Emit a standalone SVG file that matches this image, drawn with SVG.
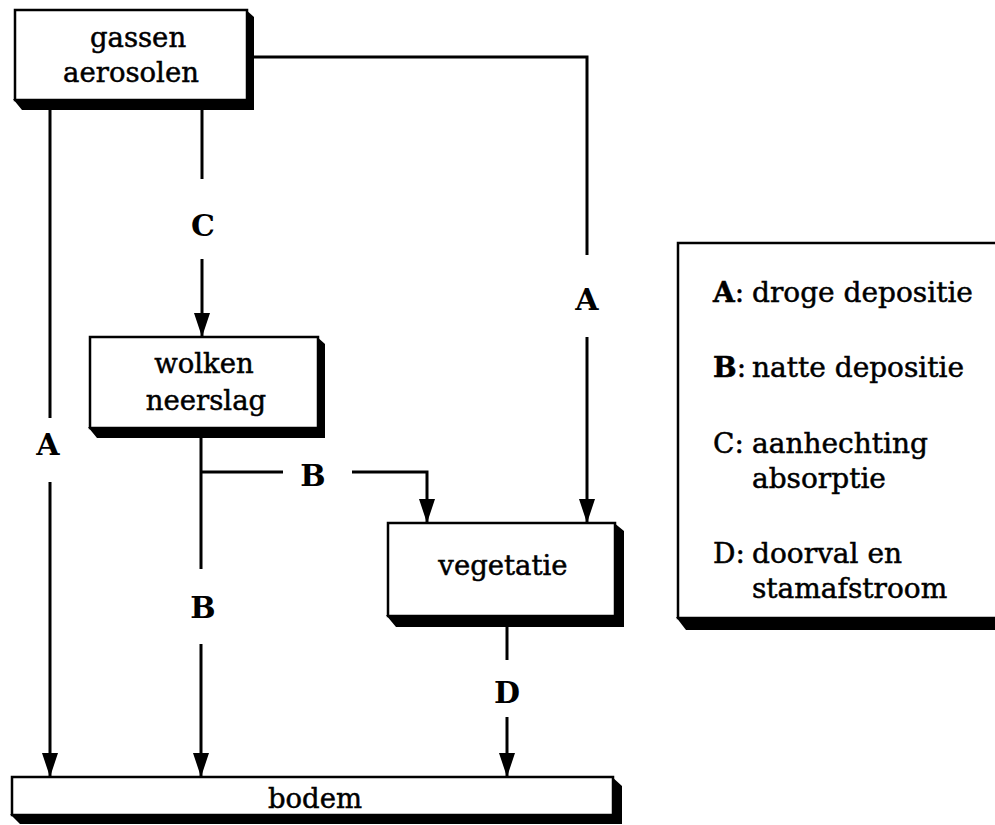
<svg xmlns="http://www.w3.org/2000/svg" width="995" height="825" viewBox="0 0 995 825">
<style>
.box{fill:#fff;stroke:#000;stroke-width:2.5}
.shd{fill:#000}
.nt{font-family:"DejaVu Serif","Liberation Serif",serif;font-size:27.5px;fill:#000;stroke:#000;stroke-width:0.5;text-anchor:middle}
.lt{font-family:"DejaVu Serif","Liberation Serif",serif;font-size:28px;fill:#000;stroke:#000;stroke-width:0.5}
.lb{font-family:"DejaVu Serif","Liberation Serif",serif;font-size:30px;font-weight:bold;fill:#000;text-anchor:middle}
.ln{fill:none;stroke:#000;stroke-width:3}
</style>
<defs>
<marker id="ah" markerUnits="userSpaceOnUse" viewBox="0 0 24 16" refX="24" refY="8" markerWidth="24" markerHeight="16" orient="auto">
<path d="M0,0 L24,8 L0,16 Z" fill="#000"/>
</marker>
</defs>
<rect width="995" height="825" fill="#fff"/>
<g id="connectors">
<path class="ln" d="M50,100 V418"/>
<path class="ln" d="M50,482 V777" marker-end="url(#ah)"/>
<text class="lb" x="48" y="455">A</text>
<path class="ln" d="M202,100 V179"/>
<path class="ln" d="M202,259 V337" marker-end="url(#ah)"/>
<text class="lb" x="203" y="236">C</text>
<path class="ln" d="M247,57 H587 V255"/>
<path class="ln" d="M587,337 V523" marker-end="url(#ah)"/>
<text class="lb" x="587" y="310">A</text>
<path class="ln" d="M201,428 V569 M201,472 H283"/>
<path class="ln" d="M352,472 H427 V523" marker-end="url(#ah)"/>
<text class="lb" x="313" y="486">B</text>
<path class="ln" d="M201,644 V777" marker-end="url(#ah)"/>
<text class="lb" x="203" y="618">B</text>
<path class="ln" d="M507,616 V660"/>
<path class="ln" d="M507,717 V777" marker-end="url(#ah)"/>
<text class="lb" x="507" y="703">D</text>
</g>
<g id="node-gassen">
<polygon class="shd" points="245,9 254,17 254,110 22,110 13,99 245,99"/>
<rect class="box" x="15" y="10" width="232" height="90"/>
<text class="nt" x="138" y="47">gassen</text>
<text class="nt" x="131" y="82">aerosolen</text>
</g>
<g id="node-wolken">
<polygon class="shd" points="316,336 325,344 325,438 97,438 88,427 316,427"/>
<rect class="box" x="90" y="337" width="228" height="91"/>
<text class="nt" x="204" y="373">wolken</text>
<text class="nt" x="206" y="410">neerslag</text>
</g>
<g id="node-vegetatie">
<polygon class="shd" points="613,522 624,531 624,627 396,627 386,615 613,615"/>
<rect class="box" x="388" y="523" width="227" height="93"/>
<text class="nt" x="503" y="575">vegetatie</text>
</g>
<g id="node-bodem">
<polygon class="shd" points="611,776 622,786 622,824 20,824 10,814 611,814"/>
<rect class="box" x="12" y="777" width="601" height="38"/>
<text class="nt" x="315" y="808">bodem</text>
</g>
<g id="legend">
<polygon class="shd" points="676,617 1000,617 1000,630 686,630"/>
<rect class="box" x="678" y="243" width="330" height="375"/>
<text class="lt" x="713" y="302"><tspan font-weight="bold">A</tspan>:</text>
<text class="lt" x="752" y="302">droge depositie</text>
<text class="lt" x="713" y="377"><tspan font-weight="bold">B</tspan>:</text>
<text class="lt" x="752" y="377">natte depositie</text>
<text class="lt" x="713" y="453">C:</text>
<text class="lt" x="752" y="453">aanhechting</text>
<text class="lt" x="752" y="488">absorptie</text>
<text class="lt" x="713" y="563">D:</text>
<text class="lt" x="752" y="563">doorval en</text>
<text class="lt" x="752" y="598">stamafstroom</text>
</g>
</svg>
